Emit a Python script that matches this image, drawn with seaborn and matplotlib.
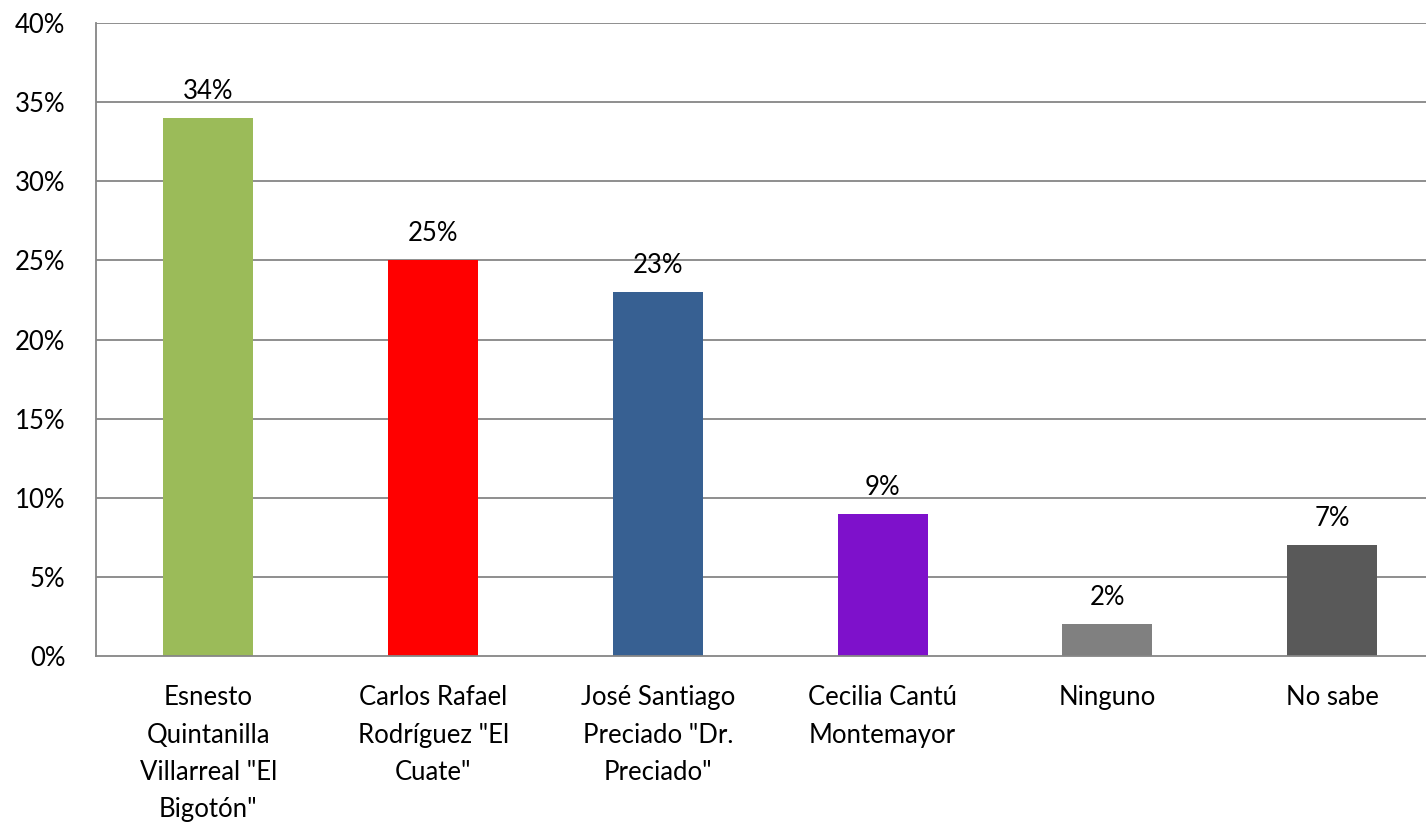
import numpy as np
import pandas as pd
import matplotlib
matplotlib.use("Agg")
import matplotlib.pyplot as plt
import seaborn as sns

categories = ['Esnesto\nQuintanilla\nVillarreal "El\nBigotón"',
              'Carlos Rafael\nRodríguez "El\nCuate"',
              'José Santiago\nPreciado "Dr.\nPreciado"',
              'Cecilia Cantú\nMontemayor',
              'Ninguno',
              'No sabe']
values = [34, 25, 23, 9, 2, 7]
bar_colors = ['#9BBB59', '#FF0000', '#376092', '#7E11CB', '#808080', '#595959']
y_ticks = [0, 5, 10, 15, 20, 25, 30, 35, 40]

sns.set_style("white")
plt.rcParams['font.family'] = ['Lato', 'DejaVu Sans']
plt.rcParams['text.color'] = 'black'

FS = 18.5

df = pd.DataFrame({'cat': categories, 'val': values})

fig = plt.figure(figsize=(14.26, 8.25), dpi=100)
ax = fig.add_axes([96/1426, 1-656/825, (1444.6-96)/1426, (656-23)/825])

sns.barplot(data=df, x='cat', y='val', hue='cat', palette=bar_colors,
            width=0.4, legend=False, ax=ax, saturation=1, linewidth=0,
            edgecolor='none')

grid_c = '#868686'
ax.set_ylim(0, 40)
ax.set_xlim(-0.5, len(categories) - 0.5)
ax.set_yticks(y_ticks)
ax.set_yticklabels([f'{t}%' for t in y_ticks])
for t in y_ticks[1:]:
    ax.axhline(t, color=grid_c, lw=1.3, zorder=0)
ax.set_axisbelow(True)

ax.set_xticks(range(len(categories)))
ax.set_xticklabels(categories, linespacing=1.62, va='top')
ax.set_xticks(np.arange(-0.5, len(categories)), minor=True)
ax.tick_params(axis='x', which='major', length=0, pad=21, labelsize=FS, labelcolor='black')
ax.tick_params(axis='x', which='minor', length=7, width=1.3, color=grid_c, direction='out')
ax.tick_params(axis='y', length=7, width=1.3, color=grid_c, direction='out', pad=15,
               labelsize=FS, labelcolor='black')
ax.set_xlabel('')
ax.set_ylabel('')

for s in ['top', 'right']:
    ax.spines[s].set_visible(False)
for s in ['left', 'bottom']:
    ax.spines[s].set_color(grid_c)
    ax.spines[s].set_linewidth(1.3)

for i, v in enumerate(values):
    ax.annotate(f'{v}%', (i, v), xytext=(0, 10), textcoords='offset points',
                ha='center', va='bottom', fontsize=FS, color='black')

fig.savefig('out.png', dpi=100)
